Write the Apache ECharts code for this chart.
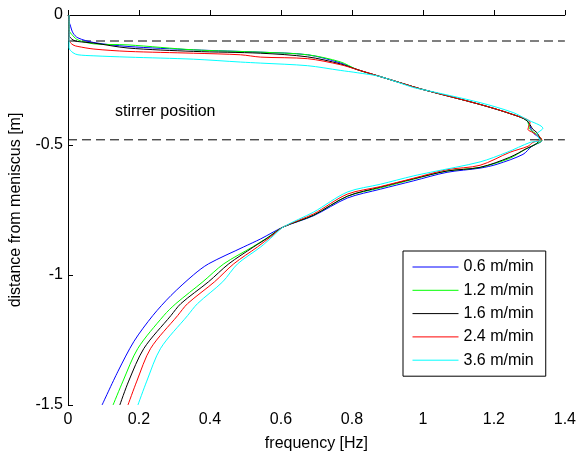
<!DOCTYPE html>
<html>
<head>
<meta charset="utf-8">
<script src="https://cdn.jsdelivr.net/npm/echarts@6/dist/echarts.min.js"></script>
<style>html,body{margin:0;padding:0;background:#fff}#c{width:579px;height:457px}</style>
</head>
<body>
<div id="c"></div>
<script>
var seriesNames = ['0.6 m/min', '1.2 m/min', '1.6 m/min', '2.4 m/min', '3.6 m/min'];
var seriesColors = ['#0000ff', '#00ff00', '#000000', '#ff0000', '#00ffff'];
var xTicks = [0, 0.2, 0.4, 0.6, 0.8, 1, 1.2, 1.4];
var yTicks = [0, -0.5, -1, -1.5];
var dashedLevels = [-0.1, -0.48];

var s06 = [[0.003,0],[0.002,-0.02],[0.006,-0.038],[0.014,-0.069],[0.028,-0.088],[0.073,-0.106],[0.169,-0.121],[0.354,-0.134],[0.543,-0.143],[0.675,-0.153],[0.767,-0.184],[0.815,-0.210],[0.880,-0.237],[0.973,-0.276],[1.001,-0.287],[1.161,-0.344],[1.254,-0.383],[1.293,-0.406],[1.310,-0.452],[1.335,-0.483],
  [1.307,-0.505],[1.282,-0.536],[1.209,-0.574],[1.161,-0.589],[1.068,-0.605],[0.973,-0.638],[0.880,-0.670],[0.787,-0.704],[0.692,-0.772],[0.607,-0.815],[0.543,-0.861],[0.495,-0.892],[0.396,-0.957],[0.354,-0.999],[0.290,-1.079],[0.239,-1.156],[0.186,-1.255],[0.141,-1.370],[0.096,-1.500]];
var s12 = [[0.003,0],[0.003,-0.057],[0.014,-0.080],[0.028,-0.096],[0.073,-0.111],[0.169,-0.115],[0.354,-0.134],[0.543,-0.143],[0.675,-0.153],[0.767,-0.180],[0.815,-0.210],[0.880,-0.237],[0.973,-0.276],[1.001,-0.287],[1.161,-0.344],[1.254,-0.383],[1.293,-0.406],[1.302,-0.440],[1.321,-0.459],[1.335,-0.482],
  [1.316,-0.498],[1.288,-0.517],[1.245,-0.551],[1.161,-0.586],[1.068,-0.600],[0.973,-0.632],[0.880,-0.665],[0.787,-0.697],[0.692,-0.770],[0.607,-0.815],[0.560,-0.858],[0.520,-0.892],[0.439,-0.957],[0.380,-1.026],[0.304,-1.110],[0.270,-1.156],[0.197,-1.282],[0.155,-1.408],[0.127,-1.500]];
var s16 = [[0.003,0],[0.003,-0.077],[0.014,-0.096],[0.028,-0.102],[0.073,-0.108],[0.169,-0.127],[0.354,-0.140],[0.543,-0.147],[0.675,-0.161],[0.767,-0.188],[0.815,-0.210],[0.880,-0.237],[0.973,-0.276],[1.001,-0.287],[1.161,-0.344],[1.254,-0.383],[1.293,-0.406],[1.310,-0.440],[1.321,-0.452],[1.330,-0.478],
  [1.316,-0.498],[1.293,-0.513],[1.245,-0.547],[1.161,-0.586],[1.068,-0.600],[0.973,-0.630],[0.880,-0.662],[0.787,-0.697],[0.692,-0.770],[0.607,-0.815],[0.565,-0.855],[0.523,-0.892],[0.453,-0.957],[0.396,-1.026],[0.318,-1.110],[0.290,-1.156],[0.214,-1.282],[0.171,-1.408],[0.146,-1.500]];
var s24 = [[0.003,0],[0.003,-0.096],[0.014,-0.115],[0.028,-0.121],[0.073,-0.131],[0.169,-0.140],[0.354,-0.147],[0.486,-0.153],[0.543,-0.162],[0.675,-0.168],[0.767,-0.191],[0.815,-0.210],[0.880,-0.237],[0.973,-0.276],[1.001,-0.287],[1.161,-0.344],[1.254,-0.383],[1.302,-0.413],[1.296,-0.440],[1.310,-0.452],[1.335,-0.478],
  [1.310,-0.490],[1.296,-0.505],[1.245,-0.528],[1.161,-0.578],[1.068,-0.595],[0.973,-0.628],[0.880,-0.660],[0.787,-0.689],[0.692,-0.765],[0.607,-0.815],[0.572,-0.852],[0.534,-0.892],[0.467,-0.957],[0.413,-1.026],[0.337,-1.110],[0.309,-1.156],[0.233,-1.282],[0.194,-1.408],[0.169,-1.500]];
var s36 = [[0.003,0],[0.003,-0.126],[0.014,-0.145],[0.028,-0.153],[0.073,-0.157],[0.169,-0.162],[0.354,-0.170],[0.486,-0.181],[0.543,-0.185],[0.675,-0.195],[0.767,-0.213],[0.815,-0.222],[0.880,-0.237],[0.973,-0.279],[1.001,-0.287],[1.161,-0.337],[1.254,-0.375],[1.293,-0.402],[1.338,-0.436],[1.321,-0.459],[1.330,-0.482],
  [1.302,-0.490],[1.237,-0.528],[1.161,-0.565],[1.021,-0.605],[0.973,-0.619],[0.880,-0.651],[0.787,-0.681],[0.692,-0.758],[0.607,-0.815],[0.578,-0.850],[0.543,-0.892],[0.478,-0.957],[0.436,-1.026],[0.365,-1.110],[0.337,-1.156],[0.261,-1.282],[0.222,-1.408],[0.197,-1.500]];

var allData = [s06, s12, s16, s24, s36];
var FONT = 'Liberation Sans, Arial, sans-serif';

var series = [];
dashedLevels.forEach(function (lv) {
  series.push({
    type: 'line', silent: true, symbol: 'none', legendHoverLink: false,
    data: [[xTicks[0], lv], [xTicks[xTicks.length - 1], lv]],
    lineStyle: { color: '#000', width: 1, type: [9, 5] }, z: 1
  });
});
allData.forEach(function (d, i) {
  series.push({
    name: seriesNames[i], type: 'line', symbol: 'none', data: d, smooth: 0.3,
    lineStyle: { color: seriesColors[i], width: 1 }, itemStyle: { color: seriesColors[i] }, z: 2 + i
  });
});

var chart = echarts.init(document.getElementById('c'));
chart.setOption({
  animation: false,
  backgroundColor: '#fff',
  grid: { left: 67, top: 15, right: 14, bottom: 50, containLabel: false },
  xAxis: {
    type: 'value', min: 0, max: 1.4, interval: 0.2,
    name: 'frequency [Hz]', nameLocation: 'middle', nameGap: 31,
    nameTextStyle: { color: '#000', fontSize: 16, fontFamily: FONT },
    axisLine: { lineStyle: { color: '#000', width: 1 } },
    axisTick: { inside: true, length: 5, lineStyle: { color: '#000' } },
    axisLabel: { color: '#000', fontSize: 16, fontFamily: FONT, margin: 7 },
    splitLine: { show: false }
  },
  yAxis: {
    type: 'value', min: -1.5, max: 0, interval: 0.5,
    name: 'distance from meniscus [m]', nameLocation: 'middle', nameGap: 44,
    nameTextStyle: { color: '#000', fontSize: 16, fontFamily: FONT },
    axisLine: { onZero: false, lineStyle: { color: '#000', width: 1 } },
    axisTick: { inside: true, length: 5, lineStyle: { color: '#000' } },
    axisLabel: { color: '#000', fontSize: 16, fontFamily: FONT, margin: 5 },
    splitLine: { show: false }
  },
  legend: {
    data: seriesNames, orient: 'vertical', left: 403, top: 251,
    itemWidth: 46, itemHeight: 14, itemGap: 7.3,
    padding: [8, 12, 8, 9],
    itemStyle: { opacity: 0 },
    lineStyle: { width: 1 },
    backgroundColor: '#fff', borderColor: '#000', borderWidth: 1,
    textStyle: { color: '#000', fontSize: 16, fontFamily: FONT }
  },
  graphic: [{
    type: 'text', left: 115, top: 104,
    style: { text: 'stirrer position', fill: '#000', fontSize: 16, fontFamily: FONT }
  }],
  series: series
});
</script>
</body>
</html>
